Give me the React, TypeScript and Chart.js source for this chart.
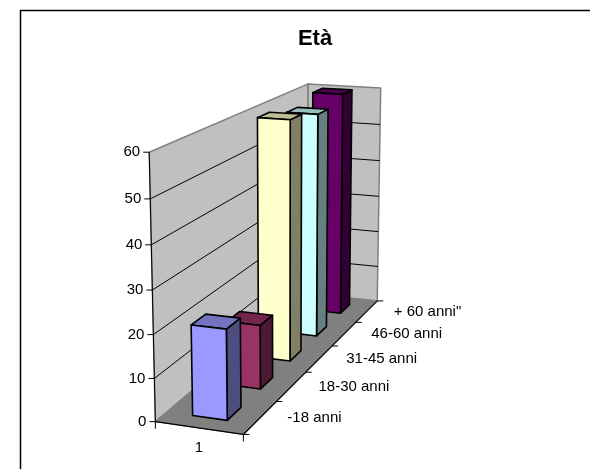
import React, { useEffect, useRef } from "react";
import { Chart, registerables } from "chart.js";

Chart.register(...registerables);

const categoryLabel = "1";
const seriesNames = ["-18 anni", "18-30 anni", "31-45 anni", "46-60 anni", '+ 60 anni"'];
const seriesValues = [21, 15.5, 60, 58, 60];
const seriesColors = ["#9999ff", "#993366", "#ffffcc", "#ccffff", "#660066"];
const yMax = 60;
const yStep = 10;

// Calibration of the 3D box: [s, t, d] (width, height, depth, 0..1) -> pixel
const calib: number[][] = [
  [0, 0, 0, 155.5, 422.5],
  [1, 0, 0, 243.5, 434.5],
  [1, 0, 0.2, 277, 401.7],
  [1, 0, 0.4, 305, 371.7],
  [1, 0, 0.6, 331.7, 346.7],
  [1, 0, 0.8, 355, 322.3],
  [1, 0, 1, 378, 300.5],
  [0, 1, 0, 149, 152],
  [0, 1 / 6, 0, 154.5, 378],
  [0, 2 / 6, 0, 153.5, 334],
  [0, 3 / 6, 0, 152.5, 290],
  [0, 4 / 6, 0, 151.5, 245],
  [0, 5 / 6, 0, 150, 199],
  [0, 1, 1, 308, 84],
  [1, 1, 1, 381, 88],
];

function solve(A: number[][], b: number[]): number[] {
  const n = b.length;
  const M = A.map((r, i) => [...r, b[i]]);
  for (let i = 0; i < n; i++) {
    let p = i;
    for (let k = i + 1; k < n; k++) if (Math.abs(M[k][i]) > Math.abs(M[p][i])) p = k;
    [M[i], M[p]] = [M[p], M[i]];
    for (let k = i + 1; k < n; k++) {
      const f = M[k][i] / M[i][i];
      for (let j = i; j <= n; j++) M[k][j] -= f * M[i][j];
    }
  }
  const x = new Array(n).fill(0);
  for (let i = n - 1; i >= 0; i--) {
    let v = M[i][n];
    for (let j = i + 1; j < n; j++) v -= M[i][j] * x[j];
    x[i] = v / M[i][i];
  }
  return x;
}

function fitProjection(): number[] {
  const rows: number[][] = [];
  const rhs: number[] = [];
  calib.forEach(([s, t, d, px, py]) => {
    rows.push([1, s, t, d, 0, 0, 0, 0, -px * s, -px * t, -px * d]);
    rhs.push(px);
    rows.push([0, 0, 0, 0, 1, s, t, d, -py * s, -py * t, -py * d]);
    rhs.push(py);
  });
  const n = 11;
  const AtA = Array.from({ length: n }, () => new Array(n).fill(0));
  const Atb = new Array(n).fill(0);
  rows.forEach((r, k) => {
    for (let i = 0; i < n; i++) {
      Atb[i] += r[i] * rhs[k];
      for (let j = 0; j < n; j++) AtA[i][j] += r[i] * r[j];
    }
  });
  return solve(AtA, Atb);
}

const P = fitProjection();
function project(s: number, t: number, d: number): [number, number] {
  const w = 1 + P[8] * s + P[9] * t + P[10] * d;
  return [(P[0] + P[1] * s + P[2] * t + P[3] * d) / w, (P[4] + P[5] * s + P[6] * t + P[7] * d) / w];
}

function poly(ctx: CanvasRenderingContext2D, pts: [number, number][], fill: string | null, stroke: string | null, lw = 1) {
  ctx.beginPath();
  pts.forEach((p, i) => (i ? ctx.lineTo(p[0], p[1]) : ctx.moveTo(p[0], p[1])));
  ctx.closePath();
  if (fill) {
    ctx.fillStyle = fill;
    ctx.fill();
  }
  if (stroke) {
    ctx.strokeStyle = stroke;
    ctx.lineWidth = lw;
    ctx.lineJoin = "round";
    ctx.stroke();
  }
}

function shade(hex: string, f: number): string {
  const n = parseInt(hex.slice(1), 16);
  const c = [(n >> 16) & 255, (n >> 8) & 255, n & 255].map((v) => Math.round(v * f));
  return `rgb(${c[0]},${c[1]},${c[2]})`;
}

function seg(ctx: CanvasRenderingContext2D, a: [number, number], b: [number, number], color: string, lw: number) {
  ctx.beginPath();
  ctx.moveTo(a[0], a[1]);
  ctx.lineTo(b[0], b[1]);
  ctx.strokeStyle = color;
  ctx.lineWidth = lw;
  ctx.stroke();
}

const box3d = {
  id: "box3d",
  beforeDatasetsDraw(chart: any) {
    const { ctx, scales } = chart;
    const y = scales.y;
    const tOf = (v: number) => (y.bottom - y.getPixelForValue(v)) / (y.bottom - y.top);
    ctx.save();
    // walls and floor
    poly(ctx, [project(0, 0, 0), project(0, 1, 0), project(0, 1, 1), project(0, 0, 1)], "#c0c0c0", "#808080", 1.5);
    poly(ctx, [project(0, 0, 1), project(0, 1, 1), project(1, 1, 1), project(1, 0, 1)], "#c0c0c0", "#808080", 1.5);
    poly(ctx, [project(0, 0, 0), project(1, 0, 0), project(1, 0, 1), project(0, 0, 1)], "#808080", "#808080", 1);
    // grid lines
    y.ticks.forEach((tk: any) => {
      if (tk.value === 0 || tk.value === yMax) return;
      const t = tOf(tk.value);
      seg(ctx, project(0, t, 0), project(0, t, 1), "#000000", 1);
      seg(ctx, project(0, t, 1), project(1, t, 1), "#000000", 1);
    });
    // axes
    seg(ctx, project(0, 0, 0), project(0, 1, 0), "#000000", 1);
    seg(ctx, project(0, 0, 0), project(1, 0, 0), "#000000", 1.2);
    seg(ctx, project(1, 0, 0), project(1, 0, 1), "#000000", 1.2);
    ctx.font = "15px 'Liberation Sans', Arial, sans-serif";
    ctx.fillStyle = "#000000";
    ctx.textBaseline = "middle";
    // value axis
    y.ticks.forEach((tk: any) => {
      const [px, py] = project(0, tOf(tk.value), 0);
      seg(ctx, [px - 6, py], [px, py], "#000000", 1);
      ctx.textAlign = "right";
      ctx.fillStyle = "#000000";
      ctx.fillText(String(tk.value), px - 9, py);
    });
    // category axis
    const [bx, by] = project(1, 0, 0);
    const [ax, ay] = project(0, 0, 0);
    seg(ctx, [ax, ay], [ax, ay + 7], "#000000", 1);
    seg(ctx, [bx, by], [bx, by + 7], "#000000", 1);
    ctx.textAlign = "center";
    ctx.fillStyle = "#000000";
    ctx.fillText(categoryLabel, 199, 448);
    // series (depth) axis
    const xs = scales.x;
    for (let i = 0; i <= seriesNames.length; i++) {
      const [px, py] = project(1, 0, i / seriesNames.length);
      seg(ctx, [px, py], [px + 6, py], "#000000", 1);
    }
    xs.ticks.forEach((_: any, i: number) => {
      const [px, py] = project(1, 0, (i + 0.5) / seriesNames.length);
      ctx.textAlign = "left";
      ctx.fillStyle = "#000000";
      ctx.fillText(seriesNames[i], px + 27, py);
    });
    // bars back to front
    const meta = chart.getDatasetMeta(0);
    const area = chart.chartArea;
    const dOf = (px: number) => (px - area.left) / (area.right - area.left);
    const s0 = 0.3;
    const s1 = 0.7;
    for (let i = meta.data.length - 1; i >= 0; i--) {
      const el = meta.data[i];
      const d0 = dOf(el.x - el.width / 2);
      const d1 = dOf(el.x + el.width / 2);
      const t1 = tOf(seriesValues[i]);
      const col = seriesColors[i];
      const f00 = project(s0, 0, d0);
      const f10 = project(s1, 0, d0);
      const f11 = project(s1, t1, d0);
      const f01 = project(s0, t1, d0);
      const b10 = project(s1, 0, d1);
      const b11 = project(s1, t1, d1);
      const b01 = project(s0, t1, d1);
      poly(ctx, [f10, b10, b11, f11], shade(col, 0.5), "#000000", 1.6);
      poly(ctx, [f01, f11, b11, b01], shade(col, 0.75), "#000000", 1.6);
      poly(ctx, [f00, f10, f11, f01], col, "#000000", 1.6);
    }
    ctx.restore();
  },
};

const frame = {
  id: "frame",
  beforeDraw(chart: any) {
    const { ctx } = chart;
    ctx.save();
    ctx.fillStyle = "#ffffff";
    ctx.fillRect(0, 0, chart.width, chart.height);
    ctx.strokeStyle = "#000000";
    ctx.lineWidth = 1.5;
    ctx.strokeRect(20.5, 10.5, 600, 500);
    ctx.restore();
  },
};

export default function App() {
  const ref = useRef<HTMLCanvasElement>(null);
  useEffect(() => {
    document.body.style.margin = "0";
    const chart = new Chart(ref.current as HTMLCanvasElement, {
      type: "bar",
      data: {
        labels: seriesNames,
        datasets: [
          {
            label: categoryLabel,
            data: seriesValues,
            backgroundColor: "rgba(0,0,0,0)",
            borderWidth: 0,
            barPercentage: 0.4,
            categoryPercentage: 1,
          },
        ],
      },
      options: {
        responsive: false,
        animation: false,
        layout: { padding: { left: 40, right: 0, top: 26, bottom: 10 } },
        scales: {
          x: { display: false },
          y: { display: false, min: 0, max: yMax, ticks: { stepSize: yStep } },
        },
        plugins: {
          legend: { display: false },
          tooltip: { enabled: false },
          title: {
            display: true,
            text: "Età",
            color: "#000000",
            font: { family: "'Liberation Sans', Arial, sans-serif", size: 22, weight: "bold" },
            padding: { top: 0, bottom: 0 },
          },
        },
      },
      plugins: [frame, box3d],
    } as any);
    return () => chart.destroy();
  }, []);
  return (
    <div style={{ width: 590, height: 469 }}>
      <canvas ref={ref} width={590} height={469} style={{ display: "block" }} />
    </div>
  );
}
